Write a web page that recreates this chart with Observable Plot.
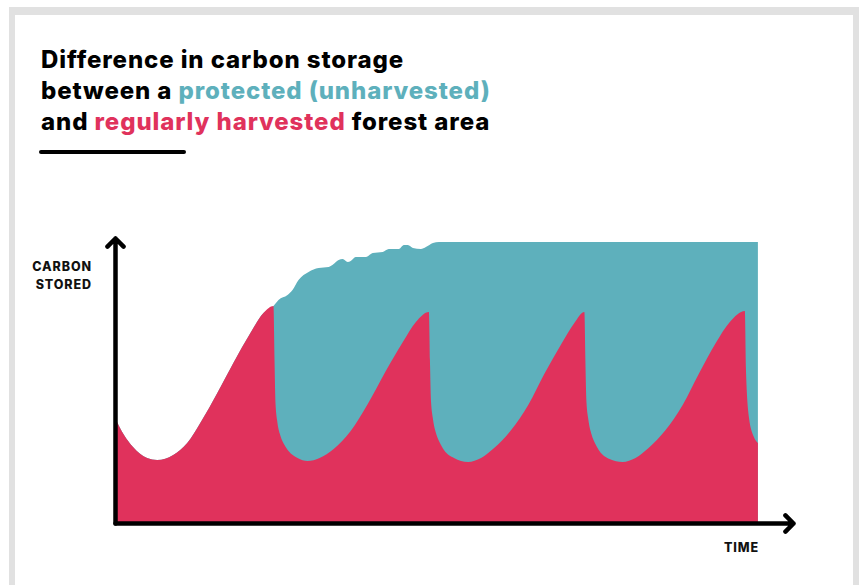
<!DOCTYPE html>
<html>
<head>
<meta charset="utf-8">
<script src="https://cdn.jsdelivr.net/npm/d3@7"></script>
<script src="https://cdn.jsdelivr.net/npm/@observablehq/plot@0.6"></script>
<style>
  html, body { margin: 0; padding: 0; background: #ffffff; }
  #page { position: relative; width: 859px; height: 585px; overflow: hidden; font-family: Inter, "Open Sans", sans-serif; }
  #frame { position: absolute; left: 9px; top: 7px; width: 850px; height: 640px; box-sizing: border-box;
           border: 6px solid #e1e1e1; border-top-width: 8px; }
  #title { position: absolute; left: 41px; top: 44px; font-size: 24px; line-height: 31px; font-weight: 800;
           color: #000; letter-spacing: 0.9px; white-space: nowrap; }
  #title .prot { color: #5eb0bc; }
  #title .harv { color: #e0325c; }
  #rule { position: absolute; left: 39px; top: 150px; width: 147px; height: 4px; border-radius: 2px; background: #000; }
  .lab { position: absolute; font-size: 12.5px; line-height: 18px; font-weight: 800; color: #111; letter-spacing: 0.9px; }
  #ylab { left: 0; width: 92px; top: 258px; text-align: right; }
  #xlab { left: 724px; top: 539px; }
  #chart { position: absolute; left: 0; top: 0; }
</style>
</head>
<body>
<div id="page">
  <div id="frame"></div>
  <div id="chart"></div>
  <div id="title">Difference in carbon storage<br>between a <span class="prot">protected (unharvested)</span><br>and <span class="harv">regularly harvested</span> forest area</div>
  <div id="rule"></div>
  <div class="lab" id="ylab">CARBON<br>STORED</div>
  <div class="lab" id="xlab">TIME</div>
</div>
<script>
// Shared initial growth (both forests identical until first harvest)
const initialTime   = [0, 9, 18, 32, 42, 58, 72, 85, 102, 118, 135, 148, 158];
const initialCarbon = [105, 88, 76, 65, 63, 68, 80, 100, 130, 160, 190, 210, 217];

// Regularly harvested forest after the first harvest (cycles of cut, decay, regrowth)
const harvestedTime = [
  159, 160, 162, 165, 169, 173, 182, 192, 204, 218, 235, 252, 270, 287, 300, 313,
  314, 315, 317, 320, 324, 328, 338, 352, 365, 378, 395, 412, 428, 445, 458, 468,
  469, 470, 472, 475, 479, 483, 493, 506, 519, 532, 549, 566, 582, 599, 613, 628,
  629, 632, 637, 641
];
const harvestedCarbon = [
  165, 120, 100, 87, 78, 72, 65, 62, 65, 74, 92, 119, 152, 181, 201, 211,
  163, 123, 104, 90, 80, 73, 65, 61, 65, 75, 93, 118, 149, 179, 200, 211,
  162, 122, 103, 89, 79, 72, 64, 61, 65, 75, 93, 118, 149, 180, 201, 212,
  156, 106, 86, 80
];

// Protected (unharvested) forest after the first harvest date
const protectedTime = [163, 172, 177, 183, 193, 203, 213, 218, 223, 227, 232, 235, 240, 250, 257, 267, 273, 283, 288, 292, 297, 305, 310, 317, 323, 330, 641];
const protectedCarbon = [223, 228, 233, 243, 251, 255, 256, 259, 263, 264, 261, 262, 266, 266, 270, 271, 274, 274, 278, 278, 275, 274, 276, 280, 281, 281, 281];

const xDomain = [0, 676];
const yDomain = [0, 285];

const teal = "#5eb0bc";
const red = "#e0325c";

const initial = initialTime.map((t, i) => ({t, c: initialCarbon[i]}));
const harvested = initial.concat(harvestedTime.map((t, i) => ({t, c: harvestedCarbon[i]})));
const protectedForest = initial.concat(protectedTime.map((t, i) => ({t, c: protectedCarbon[i]})));

const axes = [
  {x1: xDomain[0], y1: yDomain[0], x2: xDomain[0], y2: yDomain[1]},
  {x1: xDomain[0], y1: yDomain[0], x2: xDomain[1], y2: yDomain[0]}
];

const chart = Plot.plot({
  width: 859,
  height: 585,
  marginLeft: 115,
  marginRight: 66,
  marginTop: 238,
  marginBottom: 62,
  style: {background: "transparent", overflow: "visible"},
  x: {domain: xDomain, axis: null},
  y: {domain: yDomain, axis: null},
  marks: [
    Plot.areaY(protectedForest, {x: "t", y: "c", fill: teal, curve: "monotone-x"}),
    Plot.areaY(harvested, {x: "t", y: "c", fill: red, curve: "monotone-x"}),
    Plot.arrow(axes, {x1: "x1", y1: "y1", x2: "x2", y2: "y2", stroke: "#000", strokeWidth: 4.5,
      headLength: 3.8, headAngle: 90, strokeLinecap: "round", strokeLinejoin: "round"})
  ]
});
document.getElementById("chart").appendChild(chart);
</script>
</body>
</html>
